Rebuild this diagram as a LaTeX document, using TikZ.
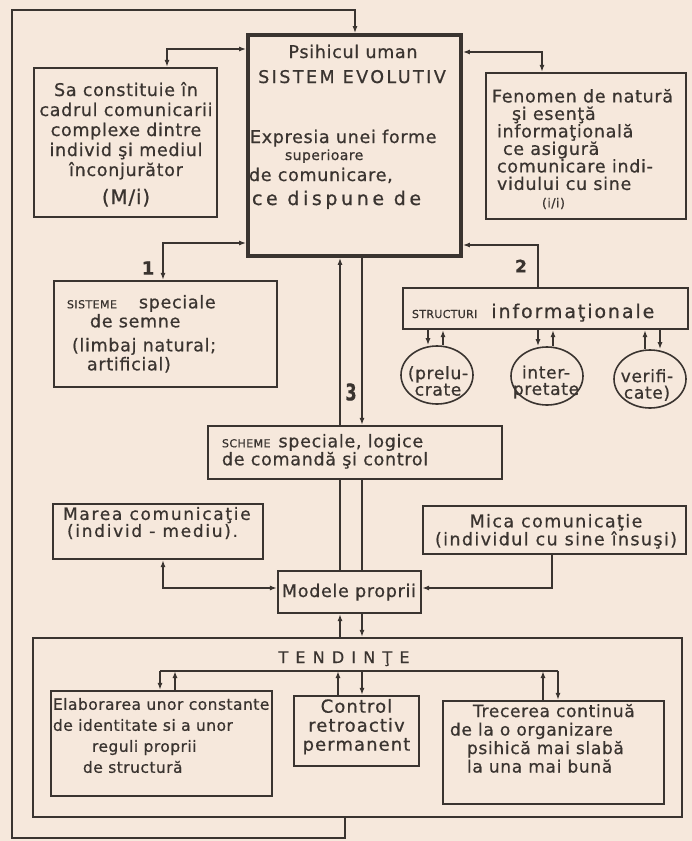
\documentclass[tikz,border=0pt]{standalone}
\usepackage{fontspec}
\usepackage{graphicx}
\setmainfont{DejaVu Sans}[LetterSpace=4, FakeBold=0.7]
\usetikzlibrary{arrows.meta,shapes.geometric}
\definecolor{ink}{HTML}{3A3430}
\definecolor{paper}{HTML}{F6E8DC}
\begin{document}
\begin{tikzpicture}[x=1pt,y=-1pt,
  font=\fontsize{17.5}{19.5}\selectfont,
  box/.style={draw=ink, line width=1.7pt, rectangle, inner sep=0pt},
  oval/.style={draw=ink, line width=1.6pt, ellipse, inner sep=0pt, minimum width=72pt, minimum height=58pt},
  txt/.style={inner sep=0pt, outer sep=0pt, text=ink},
  tip/.tip={Latex[length=7pt,width=5pt]},
  arr/.style={draw=ink, line width=1.4pt, -tip},
  arrb/.style={draw=ink, line width=1.4pt, tip-tip},
  ln/.style={draw=ink, line width=1.4pt},
  num/.style={inner sep=0pt, text=ink, font=\fontsize{20}{22}\selectfont\bfseries}
]
\fill[paper] (0,0) rectangle (692,841);
\useasboundingbox (0,0) rectangle (692,841);

% ---------- boxes ----------
\node[box, line width=3.8pt, minimum width=213pt, minimum height=221pt] (main) at (354.5,145.5) {};
\node[box, minimum width=183.5pt, minimum height=149.5pt] (sa) at (125.5,142.5) {};
\node[box, minimum width=200.5pt, minimum height=146.5pt] (fen) at (586,146) {};
\node[box, minimum width=223.5pt, minimum height=106.5pt] (sis) at (165.5,334) {};
\node[box, minimum width=285.5pt, minimum height=41.5pt] (str) at (545.5,308.5) {};
\node[oval] (pre) at (437,375) {};
\node[oval] (int) at (547,376) {};
\node[oval] (ver) at (650,379) {};
\node[box, minimum width=294.5pt, minimum height=53.5pt] (sch) at (355,452.5) {};
\node[box, minimum width=210.5pt, minimum height=55.5pt] (marea) at (158,531.5) {};
\node[box, minimum width=263.5pt, minimum height=48.5pt] (mica) at (554.5,530) {};
\node[box, minimum width=143.5pt, minimum height=42.5pt] (mod) at (349.5,592) {};
\node[box, minimum width=649.5pt, minimum height=179.5pt] (tend) at (357.5,727.5) {};
\node[box, minimum width=221.5pt, minimum height=105.5pt] (elab) at (161.5,743.5) {};
\node[box, minimum width=125.5pt, minimum height=70.5pt] (ctrl) at (356.5,731) {};
\node[box, minimum width=221.5pt, minimum height=103.5pt] (trec) at (553.5,752.5) {};

% ---------- texts ----------
\node[txt, anchor=base] (m1) at (353,58) {Psihicul uman};
\node[txt, anchor=base, font=\fontsize{17.5}{19}\selectfont\addfontfeature{LetterSpace=14}] (m2) at (352,83) {SISTEM EVOLUTIV};
\node[txt, anchor=base west] (m3) at (250,143) {Expresia unei forme};
\node[txt, anchor=base west, font=\fontsize{14}{16}\selectfont\addfontfeature{LetterSpace=3}] (m4) at (285,160) {superioare};
\node[txt, anchor=base west] (m5) at (249,181) {de comunicare,};
\node[txt, anchor=base west, font=\fontsize{19}{21}\selectfont\addfontfeature{LetterSpace=19}] (m6) at (252,205) {ce dispune de};

\node[txt, align=center, anchor=north, font=\fontsize{17.5}{20}\selectfont] (saT) at (126,82)
 {Sa constituie în\\cadrul comunicarii\\complexe dintre\\individ şi mediul\\înconjurător\\[8pt]{\fontsize{20}{21}\selectfont(M/i)}};

\node[txt, align=left, anchor=north west, font=\fontsize{17.5}{17.5}\selectfont] (fenT) at (492,89)
 {Fenomen de natură\\\hspace*{20pt}şi esenţă\\\hspace*{5pt}informaţională\\\hspace*{11pt}ce asigură\\\hspace*{5pt}comunicare indi-\\\hspace*{5pt}vidului cu sine\\\hspace*{50pt}{\fontsize{12.5}{13}\selectfont(i/i)}};

\node[txt, align=left, anchor=north west, font=\fontsize{17.5}{19}\selectfont] (sisT) at (67,295)
 {{\fontsize{11}{12}\selectfont SISTEME}\hspace*{22pt}speciale\\\hspace*{23pt}de semne\\[5pt]\hspace*{5pt}(limbaj natural;\\\hspace*{20pt}artificial)};

\node[txt, anchor=base west, font=\fontsize{19}{20}\selectfont\addfontfeature{LetterSpace=10}] (strT) at (412,318)
 {{\fontsize{11}{12}\selectfont\addfontfeature{LetterSpace=3}STRUCTURI}\hspace*{14pt}informaţionale};

\node[txt, align=center, font=\fontsize{17}{16.5}\selectfont] (preT) at (438,381) {(prelu-\\crate};
\node[txt, align=center, font=\fontsize{17}{16.5}\selectfont] (intT) at (546,382) {inter-\\pretate};
\node[txt, align=center, font=\fontsize{17}{16.5}\selectfont] (verT) at (647,385) {verifi-\\cate)};

\node[txt, align=left, anchor=north west, font=\fontsize{17.5}{18}\selectfont] (schT) at (222,434)
 {{\fontsize{11}{12}\selectfont SCHEME}\hspace*{8pt}speciale, logice\\de comandă şi control};

\node[txt, align=left, anchor=north west, font=\fontsize{17}{17}\selectfont\addfontfeature{LetterSpace=10}] (mareaT) at (63,507)
 {Marea comunicaţie\\\hspace*{4pt}(individ - mediu).};

\node[txt, align=center, anchor=north, font=\fontsize{17.5}{18}\selectfont\addfontfeature{LetterSpace=8}] (micaT) at (556,514)
 {Mica comunicaţie\\(individul cu sine însuşi)};

\node[txt, anchor=base] (modT) at (349,597) {Modele proprii};

\node[txt, anchor=base, font=\fontsize{16}{17}\selectfont\addfontfeature{LetterSpace=45}] (tendT) at (344,663) {TENDINŢE};

\node[txt, align=left, anchor=north west, font=\fontsize{15.5}{21}\selectfont\addfontfeature{LetterSpace=3}] (elabT) at (53,698)
 {Elaborarea unor constante\\de identitate si a unor\\\hspace*{39pt}reguli proprii\\\hspace*{30pt}de structură};

\node[txt, align=center, anchor=north, font=\fontsize{18}{19}\selectfont\addfontfeature{LetterSpace=6}] (ctrlT) at (356.5,699)
 {Control\\retroactiv\\permanent};

\node[txt, align=left, anchor=north west, font=\fontsize{17}{18.5}\selectfont] (trecT) at (450,704)
 {\hspace*{23pt}Trecerea continuă\\de la o organizare\\\hspace*{17pt}psihică mai slabă\\\hspace*{17pt}la una mai bună};

\node[num, font=\fontsize{18}{20}\selectfont\bfseries] (n1) at (148,268) {1};
\node[num, font=\fontsize{17}{20}\selectfont\bfseries] (n2) at (521,266) {2};
\node[num] (n3) at (351,392) {\scalebox{0.8}[1.15]{3}};

% ---------- guide coordinates ----------
\coordinate (ya) at (0,49);  \coordinate (xa) at (167,0);
\coordinate (yb) at (0,243); \coordinate (xb) at (163,0);
\coordinate (yc) at (0,52);  \coordinate (xc) at (542,0);
\coordinate (yd) at (0,245); \coordinate (xd) at (538,0);
\coordinate (x340) at (340,0); \coordinate (x362) at (362,0);
\coordinate (xp1) at (428,0); \coordinate (xp2) at (443,0);
\coordinate (xi2) at (553,0);
\coordinate (xv1) at (645,0); \coordinate (xv2) at (660,0);
\coordinate (ym) at (0,588); \coordinate (xm) at (552,0);
\coordinate (busL) at (160,671); \coordinate (busR) at (558,671);
\coordinate (xe2) at (175,0); \coordinate (xc1) at (338,0); \coordinate (xt1) at (543,0);
\coordinate (lx) at (345,0); \coordinate (bl) at (12,838); \coordinate (tl) at (12,10);
\coordinate (tx) at (355,0);

% ---------- connectors ----------
\draw[arr, line width=1.8pt] (tend.south -| lx) |- (bl) |- (tl) -| (main.north -| tx);
\draw[arrb] (main.west |- ya) -| (sa.north -| xa);
\draw[arrb] (main.west |- yb) -| (sis.north -| xb);
\draw[arrb] (main.east |- yc) -| (fen.north -| xc);
\draw[arr] (str.north -| xd) |- (main.east |- yd);

\draw[arr] (str.south -| xp1) -- (pre.north -| xp1);
\draw[arr] (pre.north -| xp2) -- (str.south -| xp2);
\draw[arr] (str.south -| xd) -- (int.north -| xd);
\draw[arr] (int.north -| xi2) -- (str.south -| xi2);
\draw[arr] (ver.north -| xv1) -- (str.south -| xv1);
\draw[arr] (str.south -| xv2) -- (ver.north -| xv2);

\draw[arr] (sch.north -| x340) -- (main.south -| x340);
\draw[arr] (main.south -| x362) -- (sch.north -| x362);
\draw[ln] (sch.south -| x340) -- (mod.north -| x340);
\draw[ln] (sch.south -| x362) -- (mod.north -| x362);

\draw[arrb] (mod.west |- ym) -| (marea.south -| xb);
\draw[arr] (mica.south -| xm) |- (mod.east |- ym);

\draw[arr] (tend.north -| x340) -- (mod.south -| x340);
\draw[arr] (mod.south -| x362) -- (tend.north -| x362);

\draw[ln] (busL) -- (busR);
\draw[arr] (busL) -- (elab.north -| busL);
\draw[arr] (elab.north -| xe2) -- (busL -| xe2);
\draw[arr] (ctrl.north -| xc1) -- (busL -| xc1);
\draw[arr] (busL -| x362) -- (ctrl.north -| x362);
\draw[arr] (trec.north -| xt1) -- (busL -| xt1);
\draw[arr] (busR) -- (trec.north -| busR);
\end{tikzpicture}
\end{document}
